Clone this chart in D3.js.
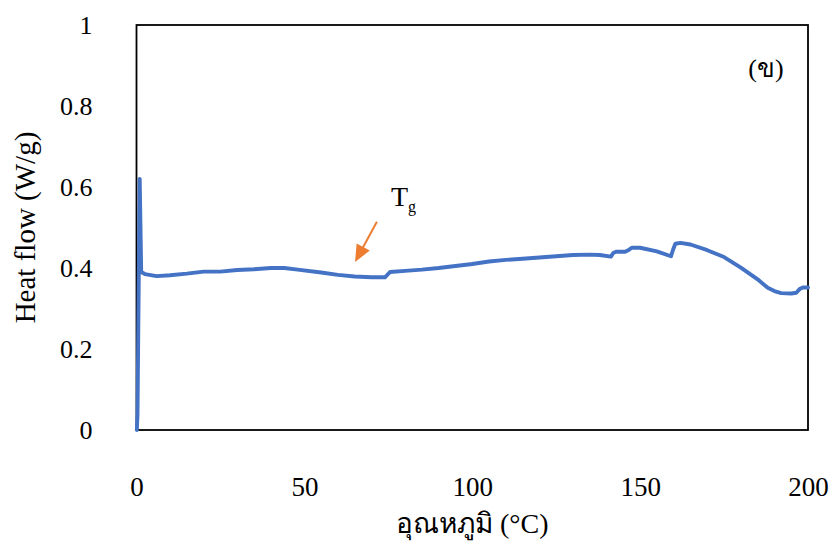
<!DOCTYPE html>
<html>
<head>
<meta charset="utf-8">
<script src="https://cdn.jsdelivr.net/npm/d3@7"></script>
<style>
  html, body { margin: 0; padding: 0; background: #fff; }
  svg { display: block; }
  text { font-family: "Liberation Serif", "Times New Roman", serif; fill: #000; }
</style>
</head>
<body>
<svg id="chart" width="830" height="544"></svg>
<script>
// ---- data ----
const temperature = [0.1, 0.3, 0.95, 1.4, 2.5, 6, 10, 15, 20, 25, 30, 35, 40, 44, 48, 55, 60, 65, 70, 74,
  74.8, 75.5, 80, 85, 90, 95, 100, 105, 110, 115, 120, 125, 130, 135, 138, 141.3, 142, 142.8, 145.5,
  146.5, 147.5, 150, 155, 159.2, 159.8, 160.5, 162, 165, 170, 175, 180, 185, 188, 190, 192, 195,
  196.5, 197.5, 198.5, 200];
const heatFlow = [0.0, 0.04, 0.62, 0.39, 0.385, 0.380, 0.382, 0.386, 0.391, 0.391, 0.395, 0.397, 0.400, 0.400, 0.396,
  0.389, 0.383, 0.379, 0.377, 0.377,
  0.384, 0.390, 0.393, 0.396, 0.400, 0.405, 0.410, 0.416, 0.420, 0.423, 0.426, 0.429, 0.432, 0.433, 0.432, 0.428,
  0.437, 0.440, 0.440,
  0.444, 0.450, 0.450, 0.441, 0.429, 0.445, 0.460, 0.462, 0.458, 0.444, 0.427, 0.401, 0.372, 0.351, 0.343, 0.338, 0.337,
  0.339, 0.348, 0.352, 0.352];
const xTicks = [0, 50, 100, 150, 200];
const yTicks = [0, 0.2, 0.4, 0.6, 0.8, 1];
const yTickLabels = ["0", "0.2", "0.4", "0.6", "0.8", "1"];
const xTitle = "อุณหภูมิ (°C)";
const yTitle = "Heat flow (W/g)";
const panelLabel = "(ข)";
// Tg annotation: arrow tail -> tip, label position (data units)
const tgArrow = [[71.6, 0.514], [65.1, 0.415]];
const tgLabelPos = [75.8, 0.553];
const panelLabelPos = [187.5, 0.872];

// ---- layout ----
const svg = d3.select("#chart");
const L = 136.5, R = 808, T = 25, B = 430;
const x = d3.scaleLinear().domain([0, 200]).range([L, R]);
const y = d3.scaleLinear().domain([0, 1]).range([B, T]);

// x axis labels
const xAxis = svg.append("g").attr("transform", `translate(0,${B})`)
  .call(d3.axisBottom(x).tickValues(xTicks).tickSize(0).tickFormat(d3.format("d")));
xAxis.select(".domain").remove();
xAxis.selectAll("text").attr("y", 57).attr("dy", "0.35em")
  .style("font-size", "27px").style("font-family", "Liberation Serif, serif");

// y axis labels
const yAxis = svg.append("g").attr("transform", `translate(${L},0)`)
  .call(d3.axisLeft(y).tickValues(yTicks).tickSize(0).tickPadding(44)
    .tickFormat((d, i) => yTickLabels[i]));
yAxis.select(".domain").remove();
yAxis.selectAll("text").attr("dy", "0.33em")
  .style("font-size", "26px").style("font-family", "Liberation Serif, serif");

// plot frame
svg.append("rect").attr("x", L).attr("y", T).attr("width", R - L).attr("height", B - T)
  .attr("fill", "none").attr("stroke", "#000").attr("stroke-width", 1.8);

// data line
const pts = temperature.map((t, i) => [t, heatFlow[i]]);
svg.append("path").datum(pts)
  .attr("fill", "none").attr("stroke", "#4472C4").attr("stroke-width", 3.9)
  .attr("stroke-linejoin", "round").attr("stroke-linecap", "round")
  .attr("d", d3.line().x(d => x(d[0])).y(d => y(d[1])));

// Tg arrow
const [tx0, ty0] = [x(tgArrow[0][0]), y(tgArrow[0][1])];
const [tx1, ty1] = [x(tgArrow[1][0]), y(tgArrow[1][1])];
const dx = tx1 - tx0, dy = ty1 - ty0, len = Math.hypot(dx, dy);
const ux = dx / len, uy = dy / len;
const headLen = 17, headW = 7.5;
const bx = tx1 - ux * headLen, by = ty1 - uy * headLen;
svg.append("line").attr("x1", tx0).attr("y1", ty0).attr("x2", bx + ux * 2).attr("y2", by + uy * 2)
  .attr("stroke", "#ED7D31").attr("stroke-width", 2);
svg.append("path")
  .attr("d", `M${tx1},${ty1}L${bx - uy * headW},${by + ux * headW}L${bx + uy * headW},${by - ux * headW}Z`)
  .attr("fill", "#ED7D31");

// Tg label
const tg = svg.append("text").attr("x", x(tgLabelPos[0])).attr("y", y(tgLabelPos[1]))
  .style("font-size", "28px");
tg.append("tspan").text("T");
tg.append("tspan").attr("dy", 6).style("font-size", "16px").text("g");

// panel label
svg.append("text").attr("x", x(panelLabelPos[0])).attr("y", y(panelLabelPos[1]))
  .attr("text-anchor", "middle").style("font-size", "26px").text(panelLabel);

// axis titles
svg.append("text").attr("x", (L + R) / 2).attr("y", 533)
  .attr("text-anchor", "middle").style("font-size", "28px").text(xTitle);
svg.append("text").attr("transform", `translate(35,${(T + B) / 2}) rotate(-90)`)
  .attr("text-anchor", "middle").style("font-size", "29px").text(yTitle);
</script>
</body>
</html>
